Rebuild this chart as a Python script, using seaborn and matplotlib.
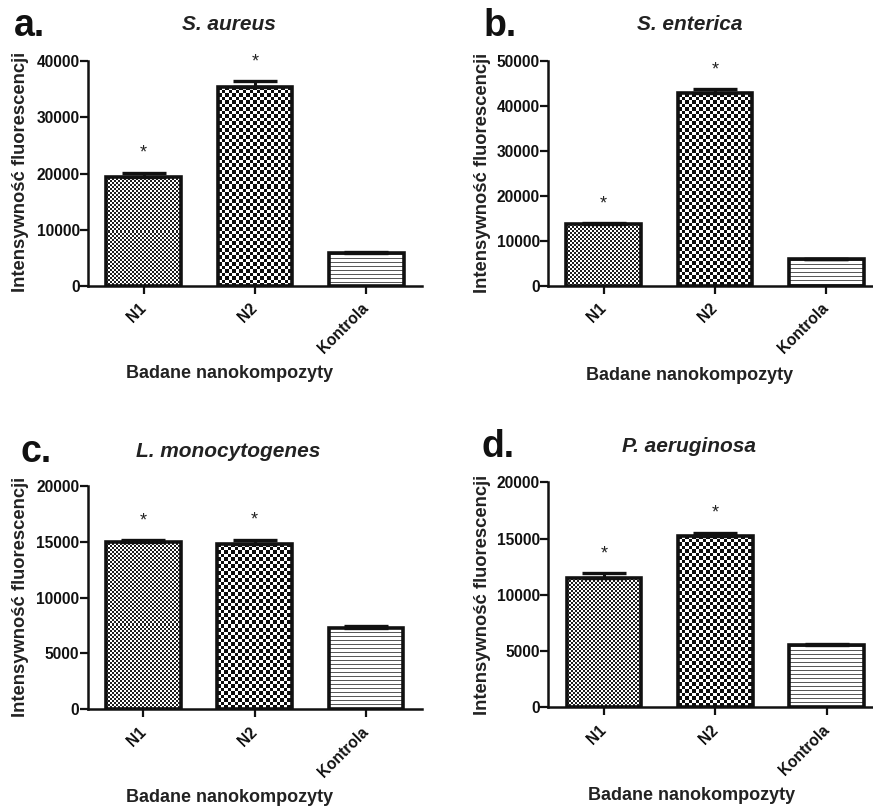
import numpy as np
import matplotlib
matplotlib.use("Agg")
import matplotlib.pyplot as plt
import seaborn as sns

# ---------------- data ----------------
categories = ["N1", "N2", "Kontrola"]
patterns = ["fine", "coarse", "lines"]

titles = ["S. aureus", "S. enterica", "L. monocytogenes", "P. aeruginosa"]
letters = ["a.", "b.", "c.", "d."]

vals_a = [19400, 35400, 5800]
err_a = [700, 1000, 250]
vals_b = [13700, 42900, 5900]
err_b = [200, 800, 150]
vals_c = [15000, 14800, 7300]
err_c = [150, 380, 150]
vals_d = [11450, 15250, 5500]
err_d = [450, 250, 120]

stars = [True, True, False]

ymax_list = [40000, 50000, 20000, 20000]
ystep_list = [10000, 10000, 5000, 5000]

ylabel = "Intensywność fluorescencji"
xlabel = "Badane nanokompozyty"

# ---------------- style ----------------
sns.set_style("white")
plt.rcParams["font.family"] = ["Liberation Sans", "DejaVu Sans"]
plt.rcParams["font.weight"] = "bold"

W, H = 873, 806
fig = plt.figure(figsize=(W / 100, H / 100), dpi=100)

# axes rects in pixel coords: (left, top_of_axis, right, zero_line)
rects_px = [
    (88, 61, 422, 286),
    (548, 61, 882, 285.7),
    (87.7, 486, 421.7, 709.3),
    (548.3, 482.3, 882.3, 707.3),
]
letter_pos = [(14, 26), (484, 26), (20, 452), (481, 447)]
title_pos = [(229, 25), (690, 24), (228, 452), (689, 447)]
ylabel_pos = [(20.5, 172), (482, 173), (20.5, 597), (482, 595)]
xlabel_pos = [(230, 373), (690, 375), (230, 797), (692, 795)]

all_vals = [vals_a, vals_b, vals_c, vals_d]
all_errs = [err_a, err_b, err_c, err_d]


def make_pattern(kind, w, h):
    i, j = np.mgrid[0:h, 0:w]
    if kind == "fine":
        c = 2.0
        a = ((np.floor(i / c) + np.floor(j / c)) % 2)
        return np.where(a == 0, 0.12, 1.0)
    if kind == "coarse":
        c = 3.5
        a = ((np.floor(i / c) + np.floor(j / c)) % 2)
        return np.where(a == 0, 0.05, 1.0)
    return np.where(i % 4 == 1, 0.35, 1.0)


for k in range(4):
    l, t, r, b = rects_px[k]
    ax = fig.add_axes([l / W, 1 - b / H, (r - l) / W, (b - t) / H])
    vals = all_vals[k]
    errs = all_errs[k]
    sns.barplot(x=categories, y=vals, ax=ax, width=0.67, color="white",
                edgecolor="#111111", linewidth=2.6, errorbar=None, saturation=1)
    ax.set_xlim(-0.5, 2.5)
    ax.set_ylim(0, ymax_list[k])
    ax.set_yticks(np.arange(0, ymax_list[k] + 1, ystep_list[k]))

    # fill patterns clipped to bars
    for p, kind in zip(ax.patches, patterns):
        x0, y0 = p.get_x(), p.get_y()
        x1, y1 = x0 + p.get_width(), y0 + p.get_height()
        (px0, py0), (px1, py1) = ax.transData.transform([(x0, y0), (x1, y1)])
        wpx = max(1, int(round(px1 - px0)))
        hpx = max(1, int(round(py1 - py0)))
        arr = make_pattern(kind, wpx, hpx)
        im = ax.imshow(arr, cmap="gray", vmin=0, vmax=1, extent=(x0, x1, y0, y1),
                       origin="upper", interpolation="nearest", aspect="auto", zorder=1.5)
        im.set_clip_path(p)
        p.set_facecolor("none")
        p.set_zorder(2)
    ax.set_xlim(-0.5, 2.5)
    ax.set_ylim(0, ymax_list[k])

    ax.errorbar(x=np.arange(3), y=vals, yerr=[np.zeros(3), errs], fmt="none",
                ecolor="#111111", elinewidth=2.2, capsize=16, capthick=2.4, zorder=3)

    for i, (v, e, s) in enumerate(zip(vals, errs, stars)):
        if s:
            ax.annotate("*", xy=(i, v + e), xytext=(0, 8), textcoords="offset points",
                        ha="center", va="bottom", fontsize=13, fontweight="normal",
                        color="#222222")

    sns.despine(ax=ax)
    for sp in ["left", "bottom"]:
        ax.spines[sp].set_linewidth(1.8)
        ax.spines[sp].set_color("#111111")
    ax.tick_params(axis="y", direction="out", length=5.5, width=1.6, pad=0.5,
                   labelsize=11.2, colors="#111111", left=True)
    ax.tick_params(axis="x", direction="out", length=5.5, width=1.6, pad=9,
                   labelsize=11.2, colors="#111111", bottom=True)
    for lab in ax.get_yticklabels():
        lab.set_fontweight("bold")
    for lab in ax.get_xticklabels():
        lab.set_fontweight("bold")
        lab.set_rotation(45)
        lab.set_ha("right")
        lab.set_va("center")
        lab.set_rotation_mode("anchor")
    ax.set_xlabel("")
    ax.set_ylabel("")

    lx, ly = letter_pos[k]
    fig.text(lx / W, 1 - ly / H, letters[k], fontsize=27, fontweight="bold",
             ha="left", va="center", color="#111111")
    tx, ty = title_pos[k]
    fig.text(tx / W, 1 - ty / H, titles[k], fontsize=15, fontweight="bold",
             style="italic", ha="center", va="center", color="#222222")
    yx, yy = ylabel_pos[k]
    fig.text(yx / W, 1 - yy / H, ylabel, fontsize=13.2, fontweight="bold",
             rotation=90, ha="center", va="center", color="#222222")
    xx, xy = xlabel_pos[k]
    fig.text(xx / W, 1 - xy / H, xlabel, fontsize=13, fontweight="bold",
             ha="center", va="center", color="#222222")

fig.savefig("out.png", dpi=100, facecolor="white")
